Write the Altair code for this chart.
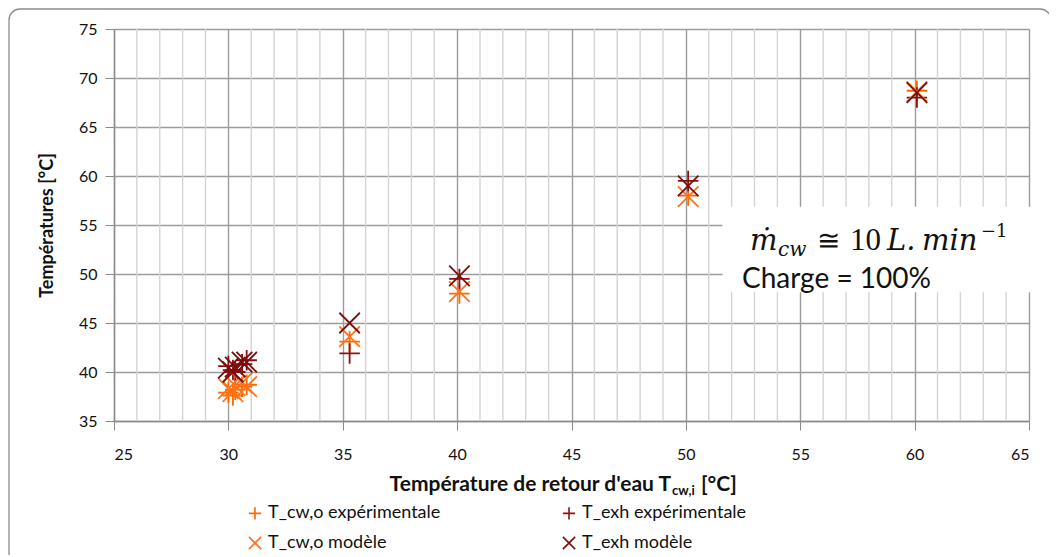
import altair as alt
import pandas as pd

# ---- data ----
x_ret = [30.0, 30.2, 30.3, 30.6, 30.8, 35.3, 40.1, 50.1, 60.1]
t_cw_exp = [37.9, 37.6, 38.2, 38.5, 38.7, 43.1, 48.0, 58.0, 68.7]
t_exh_exp = [40.6, 40.2, 40.0, 40.8, 41.2, 41.9, 49.5, 59.5, 68.0]
t_cw_mod = [38.3, 38.0, 38.6, 38.9, 38.5, 43.6, 48.2, 57.9, 68.6]
t_exh_mod = [40.4, 40.0, 40.5, 41.0, 41.0, 45.0, 49.8, 59.0, 68.5]

series_names = ["T_cw,o expérimentale", "T_exh expérimentale", "T_cw,o modèle", "T_exh modèle"]
series_vals = [t_cw_exp, t_exh_exp, t_cw_mod, t_exh_mod]
series_colors = ["#FF6600", "#8E1010", "#FF7418", "#7A0E0E"]

PLUS = "M-1,0L1,0M0,-1L0,1"
CROSS = "M-1,-1L1,1M-1,1L1,-1"
series_shapes = [PLUS, PLUS, CROSS, CROSS]

x_major = list(range(25, 70, 5))
x_minor = [v for v in range(25, 66) if v % 5 != 0]
y_ticks = list(range(35, 80, 5))

rows = []
for k, (name, vals) in enumerate(zip(series_names, series_vals)):
    for xv, yv in zip(x_ret, vals):
        rows.append({"x": xv, "y": yv, "serie": name, "k": k})
df = pd.DataFrame(rows)

FONT = "Lato"
W, H = 915, 392
GRID_MAJOR = "#9c9c9c"
GRID_MINOR = "#d4d4d4"
AXIS_COL = "#8a8a8a"

xscale = alt.Scale(domain=[25, 65], nice=False, zero=False)
yscale = alt.Scale(domain=[35, 75], nice=False, zero=False)

minor = alt.Chart(pd.DataFrame({"v": x_minor})).mark_rule(color=GRID_MINOR, strokeWidth=1.4).encode(
    x=alt.X("v:Q", scale=xscale), y=alt.value(0), y2=alt.value(H)
)

points = alt.Chart(df).mark_point(filled=False, size=420, strokeWidth=1.8, opacity=1).encode(
    x=alt.X("x:Q", scale=xscale, axis=alt.Axis(
        values=x_major, title=None, labelOverlap=False,
        gridColor=GRID_MAJOR, gridWidth=1.4,
        tickSize=9, tickColor=AXIS_COL, domainColor=AXIS_COL, domainWidth=1.4,
        labelFont=FONT, labelFontSize=16, labelColor="#111", labelPadding=16,
    )),
    y=alt.Y("y:Q", scale=yscale, axis=alt.Axis(
        values=y_ticks, title="Températures [°C]", labelOverlap=False,
        gridColor=GRID_MAJOR, gridWidth=1.4,
        tickSize=9, tickColor=AXIS_COL, domainColor=AXIS_COL, domainWidth=1.4,
        labelFont=FONT, labelFontSize=16, labelColor="#111", labelPadding=8,
        titleFont=FONT, titleFontSize=18, titleFontWeight="bold", titleColor="#111",
        titlePadding=22,
    )),
    color=alt.Color("serie:N", sort=series_names,
                    scale=alt.Scale(domain=series_names, range=series_colors),
                    legend=alt.Legend(title=None, orient="none", legendX=132, legendY=475,
                                      direction="horizontal",
                                      columns=2, columnPadding=118, rowPadding=10,
                                      symbolSize=150, symbolStrokeWidth=1.6,
                                      labelFont=FONT, labelFontSize=18, labelColor="#111",
                                      labelOffset=4, labelLimit=400)),
    shape=alt.Shape("serie:N", sort=series_names,
                    scale=alt.Scale(domain=series_names, range=series_shapes)),
    order=alt.Order("k:Q"),
)

one = pd.DataFrame({"a": [0]})

# outer rounded frame of the chart area
frame = alt.Chart(one).mark_rect(
    fillOpacity=0, stroke="#8c8c8c", strokeWidth=1.3, cornerRadius=11, clip=False
).encode(x=alt.value(-105), x2=alt.value(937), y=alt.value(-20), y2=alt.value(560))

# white annotation box
box_x = [51.6, 65.3]
box_y = [56.85, 48.15]
box = alt.Chart(one).mark_rect(fill="white", clip=False).encode(
    x=alt.datum(box_x[0], scale=xscale), x2=alt.datum(box_x[1]),
    y=alt.datum(box_y[0], scale=yscale), y2=alt.datum(box_y[1]),
)


def txt(text, x, y, size, font=FONT, style="normal", weight="normal", align="left", baseline="alphabetic"):
    return alt.Chart(one).mark_text(
        text=text, font=font, fontSize=size, fontStyle=style, fontWeight=weight,
        align=align, baseline=baseline, color="#111"
    ).encode(x=alt.value(x), y=alt.value(y))


MATH = "DejaVu Serif"
ann = [
    txt("ṁ", 636, 221, 29, font=MATH, style="italic"),
    txt("cw", 664, 227, 20, font=MATH, style="italic"),
    txt("≅", 703, 221, 28, font=MATH),
    txt("10", 736, 221, 31, font="Liberation Serif"),
    txt("L.", 773, 221, 29, font=MATH, style="italic"),
    txt("min", 808, 221, 29, font=MATH, style="italic"),
    txt("−1", 867, 208, 18, font=MATH),
    txt("Charge = 100%", 628, 259, 28),
]

xtitle = [
    txt("Température de retour d'eau T", 557, 462, 21, weight="bold", align="right"),
    txt("cw,i", 558, 466, 13, weight="bold"),
    txt("[°C]", 587, 462, 21, weight="bold"),
]

chart = alt.layer(frame, minor, points, box, *ann, *xtitle).properties(
    width=W, height=H,
    autosize=alt.AutoSizeParams(type="none"),
    padding={"left": 106, "top": 21, "right": 20, "bottom": 134},
).configure_view(stroke=None).configure(background="white")

chart.save("out.html", embed_options={"renderer": "svg", "actions": False})
